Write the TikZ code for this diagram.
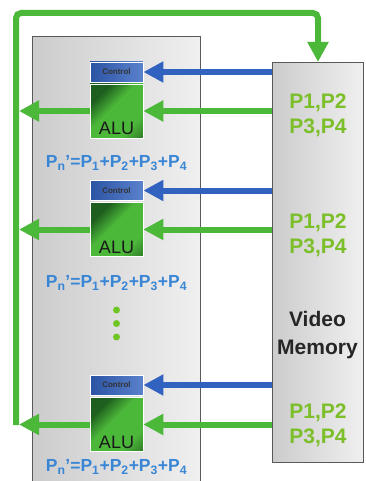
\documentclass[tikz,border=0pt]{standalone}
\usepackage{fontspec}
\setmainfont{Liberation Sans}
\usetikzlibrary{arrows.meta}
\definecolor{lgreen}{HTML}{4CB83A}
\definecolor{tgreen}{HTML}{7CBF2A}
\definecolor{ablue}{HTML}{3262C0}
\definecolor{fblue}{HTML}{3A86D6}
\definecolor{dgreen}{HTML}{1E5E1E}
\pgfdeclarehorizontalshading{alushade}{100bp}{color(0bp)=(dgreen); color(28bp)=(dgreen); color(45bp)=(lgreen); color(70bp)=(lgreen); color(100bp)=(dgreen!70!black)}
\tikzset{
  panel/.style={draw=black!65, line width=0.8pt, left color=black!20, right color=black!6},
  ctrlbox/.style={draw=white, line width=0.8pt, left color=ablue!85!black, right color=ablue!80!white,
    minimum width=53pt, minimum height=20pt, inner sep=0pt, font=\fontsize{8}{8}\selectfont\bfseries, text=black!80},
  alubox/.style={draw=white, line width=0.5pt, shading=alushade, shading angle=-45,
    minimum width=53pt, minimum height=54pt, inner sep=0pt},
  alutext/.style={font=\fontsize{18}{18}\selectfont, text=black!90, inner sep=3pt},
  ptext/.style={font=\fontsize{21}{25}\selectfont\bfseries, text=tgreen, align=center},
  ftext/.style={font=\fontsize{17.5}{17.5}\selectfont\bfseries, text=fblue},
  garrow/.style={draw=lgreen, line width=6pt, -{Triangle[width=20pt,length=20pt]}},
  barrow/.style={draw=ablue, line width=6pt, -{Triangle[width=20pt,length=20pt]}},
  dot/.style={circle, fill=tgreen!90!green, minimum size=7pt, inner sep=0pt}
}
\begin{document}
\begin{tikzpicture}[x=1pt,y=-1pt]
\useasboundingbox (0,0) rectangle (365,481);
% panels
\node[panel, minimum width=168pt, minimum height=460pt, anchor=north west, inner sep=0pt] (left) at (32,36) {};
\node[panel, minimum width=91pt, minimum height=400pt, anchor=north west, inner sep=0pt] (mem) at (272,62) {};
\node[font=\fontsize{21}{28}\selectfont\bfseries, align=center, text=black!85] (vm) at (317.5,335) {Video\\Memory};
% units
\node[ctrlbox] (c1) at (116.5,72) {Control};
\node[alubox] (a1) at (116.5,111) {};
\node[alutext, anchor=south] (t1) at (a1.south) {ALU};
\node[ctrlbox] (c2) at (116.5,190.5) {Control};
\node[alubox] (a2) at (116.5,229.5) {};
\node[alutext, anchor=south] (t2) at (a2.south) {ALU};
\node[ctrlbox] (c3) at (116.5,385) {Control};
\node[alubox] (a3) at (116.5,424.5) {};
\node[alutext, anchor=south] (t3) at (a3.south) {ALU};
% formulas
\node[ftext] (f1) at (116.5,163) {P\textsubscript{n}'=P\textsubscript{1}+P\textsubscript{2}+P\textsubscript{3}+P\textsubscript{4}};
\node[ftext] (f2) at (116.5,283) {P\textsubscript{n}'=P\textsubscript{1}+P\textsubscript{2}+P\textsubscript{3}+P\textsubscript{4}};
\node[ftext] (f3) at (116.5,467) {P\textsubscript{n}'=P\textsubscript{1}+P\textsubscript{2}+P\textsubscript{3}+P\textsubscript{4}};
% dots
\node[dot] (d1) at (116.5,310) {};
\node[dot] (d2) at (116.5,323.5) {};
\node[dot] (d3) at (116.5,337) {};
% pixel labels
\node[ptext] (p1) at (318,115.5) {P1,P2\\P3,P4};
\node[ptext] (p2) at (318,235.5) {P1,P2\\P3,P4};
\node[ptext] (p3) at (318,425) {P1,P2\\P3,P4};
% loop
\coordinate (lb) at (16,425);
\coordinate (lt) at (16,13);
\coordinate (rt) at (318,13);
\draw[garrow, rounded corners=5pt] (lb) -- (lt) -- (rt) -- (rt |- mem.north);
% arrows memory -> control / alu
\draw[barrow] (mem.west |- c1.east) -- (c1.east);
\draw[barrow] (mem.west |- c2.east) -- (c2.east);
\draw[barrow] (mem.west |- c3.east) -- (c3.east);
\draw[garrow] (mem.west |- a1.east) -- (a1.east);
\draw[garrow] (mem.west |- a2.east) -- (a2.east);
\draw[garrow] (mem.west |- a3.east) -- (a3.east);
% alu -> loop
\coordinate (e1) at (19,111);
\coordinate (e2) at (19,229.5);
\coordinate (e3) at (19,424.5);
\draw[garrow] (a1.west) -- (e1);
\draw[garrow] (a2.west) -- (e2);
\draw[garrow] (a3.west) -- (e3);
\end{tikzpicture}
\end{document}
